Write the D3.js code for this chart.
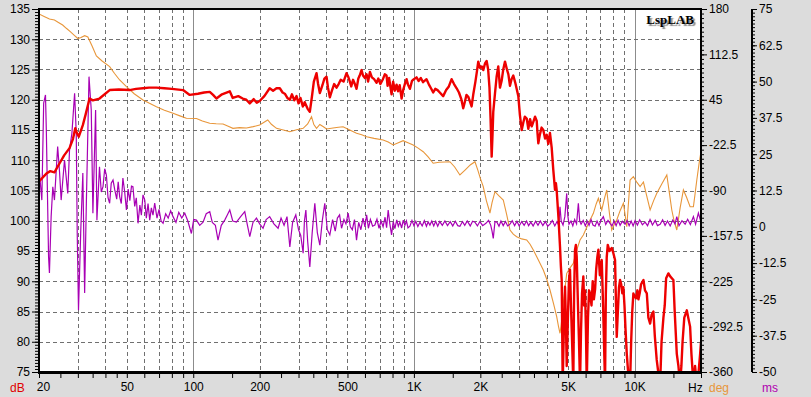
<!DOCTYPE html>
<html><head><meta charset="utf-8">
<script src="https://cdn.jsdelivr.net/npm/d3@7"></script>
<style>
html,body{margin:0;padding:0;background:#dcdcdc;}
svg{display:block;font-family:"Liberation Sans",Arial,sans-serif;font-size:12px;}
</style></head><body>
<svg id="c" width="811" height="397"></svg>
<script>
// ---- data ----
const freqTicks = [20,50,100,200,500,1000,2000,5000,10000];
const freqTickLabels = ["20","50","100","200","500","1K","2K","5K","10K"];
const dbTicks = [75,80,85,90,95,100,105,110,115,120,125,130,135];
const degTicks = [-360,-292.5,-225,-157.5,-90,-22.5,45,112.5,180];
const msTicks = [-50,-37.5,-25,-12.5,0,12.5,25,37.5,50,62.5,75];

// SPL (dB)
const spl = [[20,106.5],[21.6,107.8],[22.5,108.2],[23.5,108],[24.8,109.5],[26,110.8],[27.5,112],[28.5,113.5],[29.2,115.3],[29.7,114.5],[30.3,113.9],[31.6,115.8],[32.5,117.5],[33.9,120.2],[35.1,119.9],[37.6,120.2],[41.8,121.6],[46,121.7],[51.5,121.6],[55,121.8],[59.2,121.9],[63,122],[68.1,122],[74,121.9],[80,121.8],[89.9,121.6],[96.4,120.8],[105,121],[112,121.2],[118.8,121.3],[123,120.8],[127.4,120.2],[135,120.9],[146.4,121.4],[151,120.3],[160,120.6],[167.6,120.2],[174,120],[180.4,119.4],[188,120.1],[194,119.5],[200,119.8],[210,120.6],[222,121.9],[230,121.5],[238.4,121.9],[246.8,121.9],[254,121.2],[260,121],[267,120.3],[274,120],[280,120.9],[287,119.9],[293.8,120.6],[300,119.4],[306,120.3],[313.8,118.9],[320,119.6],[330,118.5],[337.5,118],[345,120.5],[352,123],[362,124.4],[368,122.6],[374.7,121.1],[385,122.4],[393,123.5],[401.8,123.8],[408,122],[415.9,120.4],[425,121.5],[435,122.6],[446,122],[456,122.6],[466,123.3],[480,123],[495,124.4],[505,123.7],[512.6,123],[520,122.2],[530,123.3],[540,122.6],[549.5,121.8],[560,123.5],[568,124],[579,124.9],[588,124],[599.8,123.6],[610,124.2],[620,123],[632,124.6],[645,123.7],[660,123.4],[677.5,122.8],[690,123.5],[705,122.6],[723.6,123.4],[738,124.2],[751.7,124],[760,122.3],[772,123.6],[785,121.8],[792,120.9],[805,123],[820,121.5],[834.6,122.5],[848,121.4],[862,122.4],[879.5,120.2],[895,121.7],[910,122.6],[926.6,123.4],[940,122.5],[959,121.8],[980,123.1],[1000,123.4],[1028,123.7],[1050,123.1],[1075,123.6],[1100,122.9],[1141,123.4],[1170,122.5],[1195,121.9],[1223,121.2],[1250,121.8],[1280,121.6],[1310,121.2],[1357,120.6],[1400,121.6],[1440,122.2],[1482,123.4],[1520,122.6],[1562,121.9],[1600,121.2],[1640,120.1],[1673,118.6],[1700,119.6],[1730,120.8],[1763,120.5],[1795,119.7],[1826,118.9],[1860,121],[1900,123],[1930,124.7],[1957,126.3],[1990,125.3],[2030,125.5],[2062,124.9],[2100,126],[2136,126.4],[2170,125],[2200,122],[2225,117],[2251,110.6],[2270,114],[2289,118],[2330,121],[2370,123.8],[2412,125.5],[2455,122],[2500,123.2],[2540,125],[2587,126.3],[2640,125],[2680,124.2],[2725,122.3],[2770,123.4],[2821,124],[2880,122.8],[2930,121.6],[2973,120.6],[3020,117.6],[3080,115],[3130,116.2],[3180,117.2],[3245,116.9],[3300,115.2],[3360,116.8],[3420,115.6],[3480,116.4],[3540,117.2],[3602,116.5],[3635,114.3],[3663,112.8],[3720,114.2],[3790,115.4],[3858,115],[3930,113.6],[4000,114.2],[4065,112.7],[4137,114.5],[4211,112.1],[4280,108.5],[4359,105.1],[4400,106.2],[4437,105],[4520,100.5],[4593,95.7],[4635,92.5],[4675,90.2],[4724,73],[4780,82],[4839,89.1],[4880,84],[4926,76],[4980,83],[5040,90],[5098,91.9],[5150,86],[5210,80],[5277,73],[5320,88],[5372,95.2],[5420,96],[5468,94],[5540,86],[5600,80],[5660,73],[5720,82],[5780,88],[5859,90.8],[5910,86],[5964,88.5],[6020,82],[6071,73],[6150,84],[6220,88.5],[6286,88],[6380,86],[6460,90],[6540,87],[6622,88.6],[6700,92],[6780,94],[6855,95.2],[6960,91],[7099,93.5],[7200,86],[7290,78],[7348,73],[7410,88],[7479,94],[7560,96],[7700,95],[7880,95.5],[8020,94.6],[8157,93.5],[8240,86],[8303,80.8],[8400,85],[8500,89],[8595,90.2],[8700,89.5],[8800,88],[8897,89],[9000,86],[9100,82],[9218,78],[9350,75],[9450,73],[9542,73],[9650,80],[9760,85],[9877,88],[10000,87.5],[10150,87.2],[10300,88.5],[10409,87],[10550,88],[10700,89.5],[10968,90.2],[11150,88.5],[11362,88],[11550,84],[11761,83],[11950,84.5],[12172,85],[12350,81],[12600,77],[12800,75],[13055,73],[13250,80],[13512,84],[13700,86],[13900,90.5],[14236,91.3],[14500,90.8],[14995,90.2],[15200,85],[15535,78],[15800,76],[16080,73],[16300,76],[16500,80],[16800,84],[17245,85.2],[17500,84],[17850,82.5],[18100,78],[18477,73],[18800,76],[19144,73],[19500,75],[19820,78],[20000,80]];

// phase (deg)
const phase = [[20,172.6],[21.1,169],[22.3,165.1],[23.5,163.6],[24.5,160],[25.6,156.2],[26.6,151.3],[27.8,146],[29,140.5],[30,136.1],[31,137.5],[32.2,140.3],[33.3,138.3],[34.8,125],[36.4,110.1],[38.5,103],[41.8,94.2],[44,84],[46.4,74.4],[49.8,64.4],[54,54],[59.2,44.6],[63,40],[68.1,34.7],[74,29.5],[81,24.8],[87,21],[93.1,17.4],[103.4,17.1],[110,13.5],[118.8,10],[127,9.3],[136.5,8.9],[144,5.5],[151.4,2.5],[162,3.6],[174.3,3],[187,5],[200,7.4],[214.7,13.8],[217.6,14.9],[226,8.5],[238.4,2.5],[256,0],[274,-2.5],[294,0.5],[314.8,2.5],[330,9],[343.6,19.8],[352,8],[362,2.5],[374.7,8.2],[388.9,4.9],[401.8,1.5],[430,3],[455,4],[477.6,4.9],[512,0],[549.5,-4.9],[580,-7],[610.6,-10],[660,-12.5],[725.6,-14.9],[765,-18],[805.4,-22.3],[850,-19],[893.7,-15.9],[940,-19],[992.4,-22.3],[1045,-27],[1102,-32.3],[1160,-40],[1223,-49.5],[1300,-48],[1380,-47.5],[1456,-47.2],[1530,-55],[1616,-66.9],[1700,-60],[1800,-52],[1891,-47.2],[1950,-60],[2000,-72],[2062,-84.3],[2130,-105],[2211,-123.5],[2260,-108],[2330,-91.8],[2430,-98],[2541,-104.1],[2630,-125],[2725,-148.8],[2820,-155],[2922,-158.7],[3080,-162],[3245,-163.6],[3360,-170],[3477,-178.5],[3660,-193],[3858,-208.3],[4000,-222],[4137,-238],[4290,-258],[4437,-277.7],[4520,-292],[4593,-302.4],[4640,-292],[4675,-282.6],[4760,-255],[4926,-213.2],[5100,-205],[5277,-198.3],[5450,-180],[5660,-163.6],[5859,-156.2],[6200,-138],[6504,-123.9],[6700,-110],[6855,-101.6],[7000,-112],[7099,-119],[7300,-102],[7479,-89.2],[7700,-125],[7880,-148.8],[8100,-140],[8303,-133.9],[8600,-120],[8897,-109],[9050,-125],[9218,-143.9],[9400,-105],[9542,-74.4],[9877,-69.5],[10250,-78],[10595,-84.3],[10968,-77.4],[11350,-98],[11761,-119],[12200,-105],[12612,-94.2],[13300,-80],[14000,-66.9],[14400,-95],[14746,-119],[15100,-135],[15535,-148.8],[16100,-115],[16644,-89.2],[17200,-100],[17850,-114.1],[18477,-114.1],[18800,-95],[19144,-74.4],[19600,-50],[20000,-32.3]];

// group delay (ms)
const delay = [[20,10.4],[20.1,18.5],[20.6,9.2],[21,42.6],[21.4,45.4],[21.6,32.3],[22.1,-10.3],[22.3,-15.9],[22.7,3.5],[23.1,13.8],[23.5,9.2],[24.3,27.6],[24.8,18.5],[25.2,9.2],[26.1,23],[27,11.5],[27.5,26.4],[28.2,32.3],[29,46],[29.5,32.3],[29.8,-2.1],[30.2,-28.7],[30.9,-2.1],[31.6,18.5],[32.2,-22.8],[32.8,9.2],[33.7,51.7],[34.5,40.2],[35.1,4.7],[36.1,40.2],[36.6,2.3],[37.6,20.7],[38.3,12],[39,13.8],[39.7,20],[40.4,17.8],[41.1,10],[41.8,8.1],[42.5,15],[43.3,16.1],[44.1,12.7],[45,9.5],[45.7,15.5],[46.4,10.4],[47.2,8],[48,16.8],[48.9,12],[49.8,5.8],[50.7,13],[51.6,9],[52.5,14],[53.3,13.8],[54.3,7],[55.2,10],[56.2,1.2],[57.3,7.5],[58.2,4],[59.2,11],[60.3,9.2],[61.3,3],[62.4,8],[63.5,2.3],[64.6,6.5],[65.7,4],[66.9,8.2],[68.5,3],[70,6],[71.5,2],[73,1.2],[75,4.5],[77,3],[79,5.5],[81,3.5],[83.5,1.5],[86,5],[88.7,3],[91.5,4.7],[94.5,2],[98.1,-2.3],[100.5,2.5],[103.4,2.3],[107,0.5],[110.8,1.6],[114.5,4.5],[118.8,5.2],[122,1.5],[126,0.5],[129.5,-4.6],[134,0.5],[138.9,2.3],[142.5,4],[146.4,5.8],[151,2],[157,1.6],[164,3.5],[171.2,5.2],[175.5,1],[180.4,-3.4],[186.5,1.5],[193.4,3],[200,1],[207.2,-0.5],[214,2.5],[222,3.5],[232,1],[242.4,-0.5],[250,3],[258,0.5],[266,3.5],[274,-6.9],[282,1.5],[291.6,4.1],[300,-1],[307,-3],[314.8,-9.1],[319,2],[323.9,5.8],[330,-5],[337.5,-13.8],[346,-2],[355.6,8.1],[365,-2],[374.7,-6.3],[385,2.5],[394.6,8.1],[405,-1],[415.9,-2.8],[428,2.5],[440,-1.5],[450,3],[460.5,4.1],[470,-0.5],[482,2.5],[492,1],[503.5,4.7],[515,0],[526,-1],[538,2.5],[549.5,-4.6],[562,1.5],[575,-1],[588,3],[600,0],[610.6,4.1],[622,-0.5],[635,2.5],[650,0.2],[665.5,0.6],[680,2.6],[695,-0.5],[710,2],[725,0],[740,3.3],[752,-0.3],[764.6,5.8],[778,1],[792,-2.8],[806,1.8],[820,-0.6],[836,2.4],[850,0.2],[864,1.6],[880,-0.4],[895,2.3],[910,0.5],[925,2],[940,-0.4],[959,0.2],[980,2.2],[1000,0.4],[1020,1.9],[1042,0.1],[1065,1.6],[1090,0.3],[1115,2.1],[1140,0.2],[1160,1.7],[1182,0.6],[1205,2],[1230,0.3],[1255,1.9],[1282,0.2],[1310,1.8],[1345,0.5],[1382,2],[1420,0.4],[1460,1.8],[1500,0.3],[1540,1.9],[1580,0.4],[1616,0.2],[1660,1.8],[1700,0.5],[1745,2],[1800,0.3],[1845,1.9],[1891,1.6],[1940,0.3],[1990,1.8],[2050,0.4],[2120,1.2],[2180,2.2],[2230,0.5],[2260,-1.5],[2289,-4],[2330,1.8],[2379,1.6],[2430,0.2],[2480,2],[2540,0.4],[2600,1.8],[2660,0.3],[2725,0.9],[2790,2.1],[2860,0.4],[2930,1.9],[3000,0.3],[3080,1.8],[3160,0.5],[3240,2],[3310,0.4],[3387,1.6],[3470,0.3],[3560,1.9],[3650,0.5],[3740,2],[3840,0.4],[3940,1.8],[4040,0.2],[4137,0.9],[4240,2.2],[4350,0.3],[4450,1.8],[4530,0.5],[4593,6.9],[4650,2],[4740,0.6],[4830,3.5],[4926,11.5],[4980,4],[5044,0.9],[5150,2],[5250,0.3],[5350,2.5],[5460,1],[5562,8.1],[5640,2],[5722,0.9],[5850,2.2],[5980,0.3],[6100,2],[6220,0.5],[6350,2.5],[6480,0.6],[6622,0.2],[6760,2],[6900,0.4],[7050,2.3],[7219,3.5],[7400,0.8],[7580,2.2],[7741,1.2],[7900,0.3],[8080,2],[8250,0.4],[8420,2.2],[8600,0.5],[8800,1.9],[9054,0.9],[9250,2.2],[9450,0.4],[9650,2],[9850,0.3],[10050,2.1],[10300,0.6],[10550,2.4],[10850,0.7],[11162,1.6],[11450,0.4],[11750,2.5],[12050,0.6],[12400,2.2],[12700,0.4],[13055,0.9],[13400,2.4],[13750,0.5],[14100,2],[14500,0.3],[14900,2.3],[15250,1],[15535,3.5],[15900,0.4],[16400,2.1],[16946,0.9],[17400,2.6],[17900,0.8],[18477,3.5],[18900,0.9],[19460,4.7],[20000,1.6]];

// ---- drawing ----
const svg = d3.select("#c");
const L = 39, R = 701, T = 9, B = 372;
const x = d3.scaleLog().domain([20,20000]).range([L,R]);
const yDb = d3.scaleLinear().domain([75,135]).range([B,T]);
const yDeg = d3.scaleLinear().domain([-360,180]).range([B,T]);
const yMs = d3.scaleLinear().domain([-50,75]).range([B,T]);

svg.append("rect").attr("x",L).attr("y",T).attr("width",R-L).attr("height",B-T).attr("fill","#fff");

svg.append("defs").append("clipPath").attr("id","clip")
  .append("rect").attr("x",L).attr("y",T).attr("width",R-L).attr("height",B-T);

// grid
const gridF = [];
[10,100,1000,10000].forEach(d => { for (let k=1;k<=9;k++){ const f=d*k; if(f>20 && f<20000) gridF.push(f);} });
const g = svg.append("g");
g.selectAll("line.vg").data(gridF).join("line")
  .attr("x1",d=>Math.round(x(d))+0.5).attr("x2",d=>Math.round(x(d))+0.5)
  .attr("y1",T).attr("y2",B)
  .attr("stroke", d => [100,1000,10000].includes(d) ? "#8c8c8c" : "#707070")
  .attr("stroke-width",1)
  .attr("stroke-dasharray", d => [100,1000,10000].includes(d) ? null : "4,3");
g.selectAll("line.hg").data(dbTicks.filter(d=>d>75 && d<135)).join("line")
  .attr("x1",L).attr("x2",R)
  .attr("y1",d=>Math.round(yDb(d))+0.5).attr("y2",d=>Math.round(yDb(d))+0.5)
  .attr("stroke","#707070").attr("stroke-dasharray","4,3");

// curves
const plot = svg.append("g").attr("clip-path","url(#clip)");
const lineDelay = d3.line().x(d=>x(d[0])).y(d=>yMs(d[1]));
const linePhase = d3.line().x(d=>x(d[0])).y(d=>yDeg(d[1]));
const lineSpl = d3.line().x(d=>x(d[0])).y(d=>yDb(d[1]));
plot.append("path").attr("d",linePhase(phase)).attr("fill","none")
  .attr("stroke","#e8963a").attr("stroke-width",1.1);
plot.append("path").attr("d",lineDelay(delay)).attr("fill","none")
  .attr("stroke","#a800b4").attr("stroke-width",1.2);
plot.append("path").attr("d",lineSpl(spl)).attr("fill","none")
  .attr("stroke","#ee0000").attr("stroke-width",2.4).attr("stroke-linejoin","round");

// axes
function styleAxis(sel){
  sel.select(".domain").remove();
  sel.selectAll("line").attr("stroke","#000");
  sel.selectAll("text").attr("fill","#000").style("font-size","12px")
    .style("font-family",'"Liberation Sans",Arial,sans-serif');
}
// left dB axis
const minorDb = d3.range(75,135.001,0.5);
svg.append("g").attr("transform",`translate(${L},0)`)
  .call(d3.axisLeft(yDb).tickValues(minorDb).tickSize(4).tickFormat(""))
  .call(styleAxis);
svg.append("g").attr("transform",`translate(${L},0)`)
  .call(d3.axisLeft(yDb).tickValues(dbTicks).tickSize(7).tickPadding(2).tickFormat(d3.format("d")))
  .call(styleAxis);

// right deg axis
const minorDeg = d3.range(-360,180.001,6.75);
svg.append("g").attr("transform",`translate(${R},0)`)
  .call(d3.axisRight(yDeg).tickValues(minorDeg).tickSize(3).tickFormat(""))
  .call(styleAxis);
svg.append("g").attr("transform",`translate(${R},0)`)
  .call(d3.axisRight(yDeg).tickValues(degTicks).tickSize(6).tickPadding(2).tickFormat(d=>String(d)))
  .call(styleAxis);

// ms axis
const MSX = 752;
const minorMs = d3.range(-50,75.001,1.25);
svg.append("g").attr("transform",`translate(${MSX},0)`)
  .call(d3.axisRight(yMs).tickValues(minorMs).tickSize(3).tickFormat(""))
  .call(styleAxis);
svg.append("g").attr("transform",`translate(${MSX},0)`)
  .call(d3.axisRight(yMs).tickValues(msTicks).tickSize(5).tickPadding(2).tickFormat(d=>String(d)))
  .call(styleAxis);
svg.append("line").attr("x1",MSX).attr("x2",MSX).attr("y1",T).attr("y2",B)
  .attr("stroke","#000").attr("stroke-width",2);

// bottom axis ticks
const bottomTicks = [];
[10,100,1000,10000].forEach(d => { [1,1.5,2,2.5,3,3.5,4,4.5,5,6,7,8,9].forEach(k=>{const f=d*k; if(f>=20 && f<=20000) bottomTicks.push(f);}); });
svg.append("g").attr("transform",`translate(0,${B})`)
  .call(d3.axisBottom(x).tickValues(bottomTicks).tickSize(6).tickFormat(""))
  .call(styleAxis);
const bl = svg.append("g").attr("transform",`translate(0,${B})`)
  .call(d3.axisBottom(x).tickValues(freqTicks).tickSize(0).tickPadding(10)
    .tickFormat((d,i)=>freqTickLabels[i]))
  .call(styleAxis);
bl.selectAll(".tick").filter(d=>d===20).select("text").attr("dx",4);

// frame
svg.append("line").attr("x1",L-1).attr("x2",R+1).attr("y1",T).attr("y2",T).attr("stroke","#000").attr("stroke-width",2);
svg.append("line").attr("x1",L).attr("x2",L).attr("y1",T-1).attr("y2",B+1).attr("stroke","#000").attr("stroke-width",2);
svg.append("line").attr("x1",R).attr("x2",R).attr("y1",T-1).attr("y2",B+1).attr("stroke","#000").attr("stroke-width",2);
svg.append("line").attr("x1",L-1).attr("x2",R+1).attr("y1",B+0.5).attr("y2",B+0.5).attr("stroke","#000").attr("stroke-width",3);

// unit labels
const unitY = 392;
svg.append("text").attr("x",10).attr("y",unitY).attr("fill","#e00000").text("dB");
svg.append("text").attr("x",688).attr("y",unitY).attr("fill","#000").text("Hz");
svg.append("text").attr("x",709).attr("y",unitY).attr("fill","#e8963a").text("deg");
svg.append("text").attr("x",762).attr("y",unitY).attr("fill","#b000b0").text("ms");

// brand (single text with a drop shadow)
svg.append("text").attr("x",694).attr("y",24).attr("text-anchor","end")
  .style("font-family",'"Liberation Serif","DejaVu Serif",serif')
  .style("font-weight","bold").style("font-size","13px")
  .style("text-shadow","2px 2px 1px #8a8a8a")
  .attr("fill","#000").text("LspLAB");
</script>
</body></html>
